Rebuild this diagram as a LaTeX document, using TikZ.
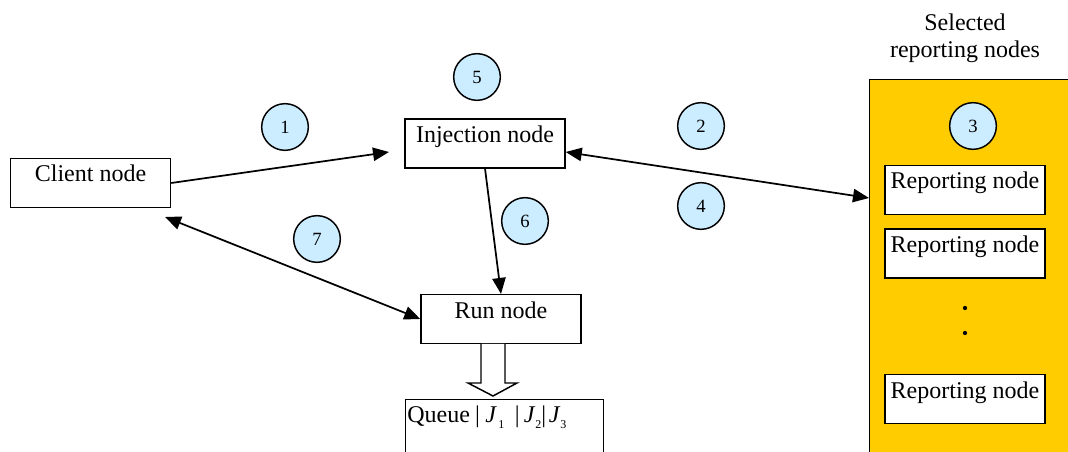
\documentclass[tikz,border=0pt]{standalone}
\usepackage{fontspec}
\setmainfont{Liberation Serif}
\usetikzlibrary{arrows.meta,calc}
\definecolor{circblue}{HTML}{CCECFF}
\definecolor{panelyellow}{HTML}{FFCC00}
\begin{document}
\begin{tikzpicture}[x=0.75pt,y=-0.75pt,
  box/.style={draw,line width=1.1pt,fill=white,minimum width=120pt,minimum height=36.5pt,inner sep=0pt},
  lbl/.style={font=\fontsize{18}{20}\selectfont,inner sep=0pt},
  num/.style={circle,draw,line width=1.1pt,fill=circblue,minimum size=35pt,inner sep=0pt,font=\fontsize{14}{16}\selectfont},
  conn/.style={line width=1.3pt,-{Triangle[length=12pt,width=10pt]}},
  biconn/.style={line width=1.3pt,{Triangle[length=12pt,width=10pt]}-{Triangle[length=12pt,width=10pt]}}]

\useasboundingbox (0,0) rectangle (1068,452);
\clip (0,0) rectangle (1068,452);

% yellow panel
\node[draw,line width=1.1pt,fill=panelyellow,minimum width=154.5pt,minimum height=285.75pt,inner sep=0pt,anchor=north west] (panel) at (869,79) {};
\node[lbl,align=center,anchor=north] (title) at (965,14) {Selected\\reporting nodes};

% boxes
\node[box] (client) at (90.5,183) {};
\node[lbl,anchor=base] (clientl) at (90.5,182) {Client node};
\node[box] (inj) at (485,143.5) {};
\node[lbl,anchor=base] (injl) at (485,143) {Injection node};
\node[box] (run) at (501,319) {};
\node[lbl,anchor=base] (runl) at (501,319) {Run node};

\node[box] (rep1) at (965,190) {};
\node[lbl,anchor=base] (rep1l) at (965,189) {Reporting node};
\node[box] (rep2) at (965,253.5) {};
\node[lbl,anchor=base] (rep2l) at (965,252.5) {Reporting node};
\node[box] (rep3) at (965,399) {};
\node[lbl,anchor=base] (rep3l) at (965,398) {Reporting node};
\fill (965,308) circle (1.6pt);
\fill (965,333) circle (1.6pt);

% queue
\node[draw,line width=1.1pt,anchor=north west,minimum width=148.5pt,minimum height=60pt,inner sep=0pt] (queue) at (405,399) {};
\node[lbl,anchor=base west] (queuel) at (407,422) {Queue\hspace{4pt}|\hspace{4pt}\textit{J}\hspace{1pt}\raisebox{-5pt}{\fontsize{9}{10}\selectfont 1}\hspace{8pt}|\hspace{3pt}\textit{J}\raisebox{-5pt}{\fontsize{9}{10}\selectfont 2}|\hspace{2pt}\textit{J}\raisebox{-5pt}{\fontsize{9}{10}\selectfont 3}};

% block arrow
\draw[line width=1.1pt,fill=white] (481,344) -- (481,383) -- (468,383) -- (493,396) -- (517,383) -- (505,383) -- (505,344);

% numbered circles
\node[num] (n1) at (285,127) {1};
\node[num] (n2) at (701,126) {2};
\node[num] (n3) at (973,126) {3};
\node[num] (n4) at (701,206) {4};
\node[num] (n5) at (477,77) {5};
\node[num] (n6) at (525,221) {6};
\node[num] (n7) at (317,239) {7};

% connectors
\coordinate (t1) at (389,152);
\coordinate (t7) at (165,217);
\draw[conn] (client.east) -- (t1);
\draw[biconn] (inj.east |- 0,152) -- (panel.west |- 0,198);
\draw[conn] (inj.south) -- (run.north);
\draw[biconn] (t7) -- (run.west);
\end{tikzpicture}
\end{document}
